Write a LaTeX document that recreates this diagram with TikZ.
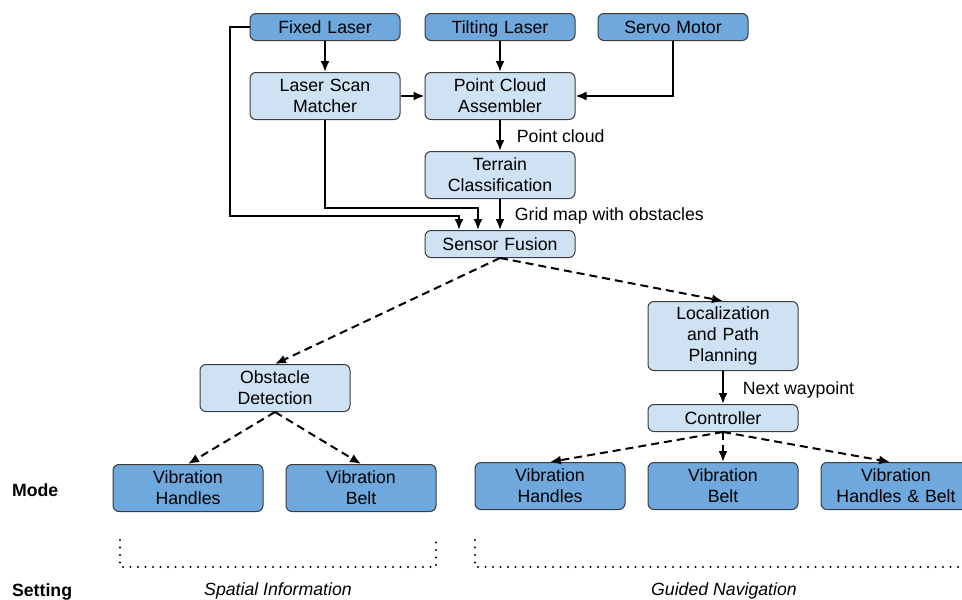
\documentclass[tikz,border=0pt]{standalone}
\usepackage{fontspec}
\setmainfont{Liberation Sans}
\usetikzlibrary{arrows.meta}
\definecolor{darkbox}{HTML}{6FA8DC}
\definecolor{lightbox}{HTML}{CFE2F3}
\definecolor{boxline}{HTML}{3C3C3C}
\tikzset{
  block/.style={draw=boxline,line width=1pt,rounded corners=6pt,minimum width=150pt,
    text width=146pt,align=center,inner sep=0pt,font=\fontsize{17.7}{21}\selectfont},
  oneline/.style={minimum height=27pt,text height=15pt,text depth=3pt},
  dark/.style={block,fill=darkbox},
  light/.style={block,fill=lightbox},
  flow/.style={line width=2pt,-{Latex[length=11pt,width=9pt]}},
  dashflow/.style={flow,dash pattern=on 8pt off 5pt},
  dots/.style={line width=2.2pt,line cap=round,dash pattern=on 0pt off 7.5pt},
}
\begin{document}
\begin{tikzpicture}[x=1pt,y=-1pt]
\fontsize{17.7}{21}\selectfont
\def\htwo{47}
\def\hthree{69}
\useasboundingbox (0,0) rectangle (962,600);
% sensors
\node[dark,oneline] (fl) at (325,27) {Fixed Laser};
\node[dark,oneline] (tl) at (500,27) {Tilting Laser};
\node[dark,oneline] (sm) at (673,27) {Servo Motor};
% processing
\node[light,minimum height=\htwo] (lsm) at (325,96) {Laser Scan\\Matcher};
\node[light,minimum height=\htwo] (pca) at (500,96) {Point Cloud\\Assembler};
\node[light,minimum height=\htwo] (tc) at (500,175) {Terrain\\Classification};
\node[light,oneline] (sf) at (500,244) {Sensor Fusion};
\node[light,minimum height=\hthree] (loc) at (723,336) {Localization\\and Path\\Planning};
\node[light,minimum height=\htwo] (od) at (275,388) {Obstacle\\Detection};
\node[light,oneline] (ctrl) at (723,418) {Controller};
% modes
\node[dark,minimum height=\htwo] (vhl) at (188,488) {Vibration\\Handles};
\node[dark,minimum height=\htwo] (vbl) at (361,488) {Vibration\\Belt};
\node[dark,minimum height=\htwo] (vhr) at (550,486) {Vibration\\Handles};
\node[dark,minimum height=\htwo] (vbr) at (723,486) {Vibration\\Belt};
\node[dark,minimum height=\htwo] (vhb) at (896,486) {Vibration\\Handles \& Belt};
% solid links
\draw[flow] (fl) -- (lsm);
\draw[flow] (tl) -- (pca);
\draw[flow] (sm) |- (pca);
\draw[flow] (lsm) -- (pca);
\draw[flow] (pca) -- (tc) node[midway,anchor=west,xshift=10pt,yshift=-1pt] (pcl) {Point cloud};
\draw[flow] (tc) -- (sf) node[midway,anchor=west,xshift=8pt,yshift=-1pt] (gml) {Grid map with obstacles};
\draw[flow] (fl.west) -| (230,216) -| ([xshift=-41pt]sf.north);
\draw[flow] (lsm.south) |- ([xshift=-22pt,yshift=22pt]sf.north) -- ([xshift=-22pt]sf.north);
\draw[flow] (loc) -- (ctrl) node[midway,anchor=west,xshift=13pt,yshift=-2pt] (nwl) {Next waypoint};
% dashed links
\draw[dashflow] (sf.south) -- (od.north);
\draw[dashflow] (sf.south) -- (loc.north);
\draw[dashflow] (od.south) -- (vhl.north);
\draw[dashflow] (od.south) -- (vbl.north);
\draw[dashflow] (ctrl.south) -- (vhr.north);
\draw[dashflow] (ctrl.south) -- (vbr.north);
\draw[dashflow] (ctrl.south) -- ([xshift=-6pt]vhb.north);
% settings
\node[anchor=west,font=\bfseries] (mode) at (6,490) {Mode};
\node[anchor=west,font=\bfseries] (setting) at (6,592) {Setting};
\draw[dots] (120,540) |- (436,567) -- (436,540);
\draw[dots] (475,540) |- (975,567);
\node[font=\itshape] (spatial) at (278,591) {Spatial Information};
\node[font=\itshape] (guided) at (724,591) {Guided Navigation};
\end{tikzpicture}
\end{document}
